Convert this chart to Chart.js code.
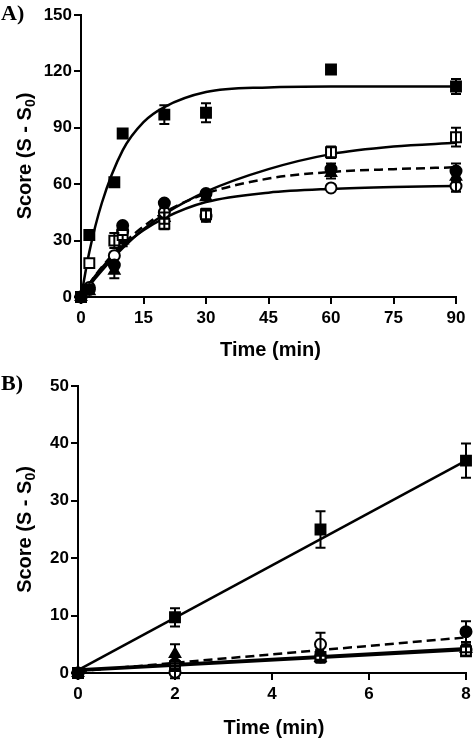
<!DOCTYPE html>
<html>
<head>
<meta charset="utf-8">
<script src="https://cdn.jsdelivr.net/npm/chart.js@4.4.0/dist/chart.umd.min.js"></script>
<style>
  body { margin: 0; background: #fff; }
  canvas { display: block; }
</style>
</head>
<body>
<canvas id="chartA" width="475" height="370"></canvas>
<canvas id="chartB" width="475" height="370"></canvas>
<script>
// Panel A: 0-90 min
const timeA = [0, 2, 8, 10, 20, 30, 60, 90];
const filledSquareA = [0, 33, 61, 87, 97, 98, 121, 112];
const filledSquareErrA = [0, 0, 0, 0, 5, 5, 0, 4];
const openSquareA = [0, 18, 30, 33, 39, 44, 77, 85];
const openSquareErrA = [0, 0, 4, 0, 3, 3, 3, 5];
const filledCircleA = [0, 4, 17, 38, 50, 55, 68, 67];
const filledCircleErrA = [0, 0, 0, 0, 0, 0, 3, 4];
const openCircleA = [0, 5, 22, 35, 45, 43, 58, 59];
const openCircleErrA = [0, 0, 0, 0, 3, 3, 0, 3];
const filledTriangleA = [0, 3, 14, 30, 42, 53, 66, 64];
const filledTriangleErrA = [0, 0, 4, 3, 3, 0, 3, 3];

// fitted curves
const fitTimeA = [0, 2, 5, 10, 15, 20, 30, 45, 60, 75, 90];
const fitFilledSquareA = [0, 24, 50, 78, 93, 101, 109, 111.5, 112, 112, 112];
const fitOpenSquareA = [0, 6, 14, 26, 36, 44, 56, 68, 76, 80, 82];
const fitFilledCircleA = [0, 7, 16, 28, 37.5, 45, 55, 63, 66.5, 68, 69];
const fitOpenCircleA = [0, 7, 15.5, 27, 35.5, 42, 50.5, 55.5, 57.5, 58.5, 59];

// Panel B: 0-8 min
const timeB = [0, 2, 5, 8];
const filledSquareB = [0, 9.7, 25, 37];
const filledSquareErrB = [0, 1.6, 3.2, 3];
const openSquareB = [0, 1.2, 2.8, 3.8];
const openSquareErrB = [0, 0.5, 0.5, 0.8];
const filledCircleB = [0, 1.6, 2.8, 7.2];
const filledCircleErrB = [0, 0.4, 0.6, 1.8];
const openCircleB = [0, 0.1, 5.0, 4.0];
const openCircleErrB = [0, 1, 2, 1];
const filledTriangleB = [0, 3.3, 2.6, 4.2];
const filledTriangleErrB = [0, 1.7, 0.8, 0.6];

const fitTimeB = [0, 8];
const fitFilledSquareB = [0.5, 37];
const fitFilledCircleB = [0.3, 6.2];
const fitOpenSquareB = [0.6, 4.3];
const fitOpenCircleB = [0.4, 4.0];

const tickFont = { family: '"Liberation Sans", Arial, sans-serif', size: 17, weight: 'bold' };

function toXY(xs, ys) {
    return xs.map((x, i) => ({ x: x, y: ys[i] }));
}

function markerSet(label, xs, ys, errs, style, filled, radius, order) {
    return {
        label: label,
        data: toXY(xs, ys),
        errors: errs,
        showLine: false,
        pointStyle: style,
        pointRadius: radius,
        pointBackgroundColor: filled ? '#000' : '#fff',
        pointBorderColor: '#000',
        pointBorderWidth: 2,
        clip: false,
        order: order || 1
    };
}

function fitSet(label, xs, ys, dashed) {
    return {
        label: label,
        data: toXY(xs, ys),
        showLine: true,
        pointRadius: 0,
        borderColor: '#000',
        borderWidth: 2.5,
        borderDash: dashed ? [9, 5] : [],
        cubicInterpolationMode: 'monotone',
        clip: false,
        order: 3
    };
}

function axis(min, max, step, size, padding) {
    return {
        type: 'linear',
        min: min,
        max: max,
        ticks: { stepSize: step, color: '#000', font: tickFont, padding: padding },
        grid: { drawOnChartArea: false, drawTicks: true, tickLength: 7, color: '#000', lineWidth: 2 },
        border: { display: true, color: '#000', width: 2 },
        afterFit: function(scale) {
            if (scale.isHorizontal()) scale.height = size; else scale.width = size;
        }
    };
}

// error bars with caps
const errorBars = {
    id: 'errorBars',
    afterDatasetsDraw(chart) {
        const ctx = chart.ctx;
        const xs = chart.scales.x, ys = chart.scales.y;
        ctx.save();
        ctx.strokeStyle = '#000';
        ctx.lineWidth = 2;
        chart.data.datasets.forEach(ds => {
            if (!ds.errors) return;
            ds.data.forEach((p, i) => {
                const e = ds.errors[i];
                if (!e) return;
                const px = xs.getPixelForValue(p.x);
                const top = ys.getPixelForValue(p.y + e);
                const bot = ys.getPixelForValue(p.y - e);
                ctx.beginPath();
                ctx.moveTo(px, top); ctx.lineTo(px, bot);
                ctx.moveTo(px - 5, top); ctx.lineTo(px + 5, top);
                ctx.moveTo(px - 5, bot); ctx.lineTo(px + 5, bot);
                ctx.stroke();
            });
        });
        ctx.restore();
    }
};

// panel letter and axis titles
const panelText = {
    id: 'panelText',
    afterDraw(chart, args, opts) {
        const ctx = chart.ctx;
        const area = chart.chartArea;
        ctx.save();
        ctx.fillStyle = '#000';

        ctx.font = 'bold 22px "Liberation Serif", "Times New Roman", serif';
        ctx.textAlign = 'left';
        ctx.textBaseline = 'alphabetic';
        ctx.fillText(opts.letter, 1, 20);

        const titleFont = 'bold 20px "Liberation Sans", Arial, sans-serif';
        ctx.font = titleFont;
        ctx.textAlign = 'center';
        ctx.textBaseline = 'middle';
        ctx.fillText('Time (min)', (area.left + area.right) / 2 + 2, area.bottom + opts.xTitleOffset);

        // y title with subscript
        const main = 'Score (S - S';
        const sub = '0';
        const end = ')';
        ctx.font = titleFont;
        const wMain = ctx.measureText(main).width;
        const wEnd = ctx.measureText(end).width;
        ctx.font = 'bold 14px "Liberation Sans", Arial, sans-serif';
        const wSub = ctx.measureText(sub).width;
        const total = wMain + wSub + wEnd;
        ctx.translate(24, (area.top + area.bottom) / 2);
        ctx.rotate(-Math.PI / 2);
        ctx.textAlign = 'left';
        ctx.textBaseline = 'alphabetic';
        let x0 = -total / 2;
        ctx.font = titleFont;
        ctx.fillText(main, x0, 7);
        ctx.font = 'bold 14px "Liberation Sans", Arial, sans-serif';
        ctx.fillText(sub, x0 + wMain, 11);
        ctx.font = titleFont;
        ctx.fillText(end, x0 + wMain + wSub, 7);
        ctx.restore();
    }
};

function baseOptions(pad, yWidth, xHeight, xRange, yRange, letter, xTitleOffset) {
    return {
        responsive: false,
        animation: false,
        layout: { padding: pad },
        scales: {
            x: axis(xRange[0], xRange[1], xRange[2], xHeight, 4),
            y: axis(yRange[0], yRange[1], yRange[2], yWidth, 2)
        },
        plugins: {
            legend: { display: false },
            tooltip: { enabled: false },
            panelText: { letter: letter, xTitleOffset: xTitleOffset }
        }
    };
}

new Chart(document.getElementById('chartA'), {
    type: 'scatter',
    data: {
        datasets: [
            fitSet('Filled square fit', fitTimeA, fitFilledSquareA, false),
            fitSet('Open square fit', fitTimeA, fitOpenSquareA, false),
            fitSet('Filled circle fit', fitTimeA, fitFilledCircleA, true),
            fitSet('Open circle fit', fitTimeA, fitOpenCircleA, false),
            markerSet('Filled square', timeA, filledSquareA, filledSquareErrA, 'rect', true, 7),
            markerSet('Open square', timeA, openSquareA, openSquareErrA, 'rect', false, 7),
            markerSet('Filled triangle', timeA, filledTriangleA, filledTriangleErrA, 'triangle', true, 6, 2),
            markerSet('Filled circle', timeA, filledCircleA, filledCircleErrA, 'circle', true, 5.5),
            markerSet('Open circle', timeA, openCircleA, openCircleErrA, 'circle', false, 5.5)
        ]
    },
    options: baseOptions({ left: 0, right: 19, top: 15, bottom: 0 }, 81, 73, [0, 90, 15], [0, 150, 30], 'A)', 53),
    plugins: [errorBars, panelText]
});

new Chart(document.getElementById('chartB'), {
    type: 'scatter',
    data: {
        datasets: [
            fitSet('Filled square fit', fitTimeB, fitFilledSquareB, false),
            fitSet('Filled circle fit', fitTimeB, fitFilledCircleB, true),
            fitSet('Open square fit', fitTimeB, fitOpenSquareB, false),
            fitSet('Open circle fit', fitTimeB, fitOpenCircleB, false),
            markerSet('Filled square', timeB, filledSquareB, filledSquareErrB, 'rect', true, 7),
            markerSet('Open square', timeB, openSquareB, openSquareErrB, 'rect', false, 7),
            markerSet('Filled triangle', timeB, filledTriangleB, filledTriangleErrB, 'triangle', true, 6, 2),
            markerSet('Filled circle', timeB, filledCircleB, filledCircleErrB, 'circle', true, 5.5),
            markerSet('Open circle', timeB, openCircleB, openCircleErrB, 'circle', false, 5.5)
        ]
    },
    options: baseOptions({ left: 0, right: 8, top: 16, bottom: 0 }, 78, 67, [0, 8, 2], [0, 50, 10], 'B)', 55),
    plugins: [errorBars, panelText]
});
</script>
</body>
</html>
